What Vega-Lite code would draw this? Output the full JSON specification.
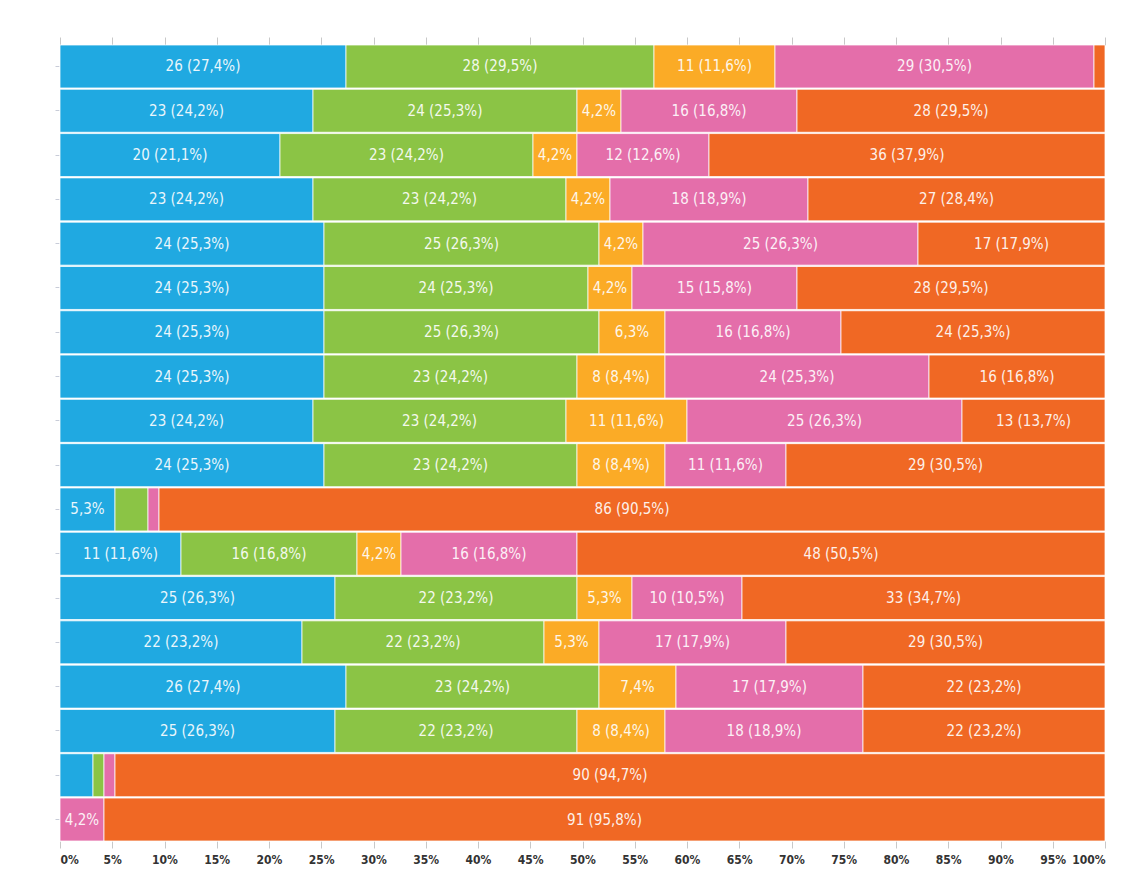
{
  "$schema": "https://vega.github.io/schema/vega-lite/v6.json",
  "autosize": "none",
  "width": 1045,
  "height": 796,
  "padding": {"left": 60, "top": 45, "right": 23, "bottom": 51},
  "background": "#ffffff",
  "config": {"view": {"stroke": null}},
  "data": {"values": [
    {"row":1,"cat":"c1","value":26},{"row":1,"cat":"c2","value":28},{"row":1,"cat":"c3","value":11},{"row":1,"cat":"c4","value":29},{"row":1,"cat":"c5","value":1},
    {"row":2,"cat":"c1","value":23},{"row":2,"cat":"c2","value":24},{"row":2,"cat":"c3","value":4},{"row":2,"cat":"c4","value":16},{"row":2,"cat":"c5","value":28},
    {"row":3,"cat":"c1","value":20},{"row":3,"cat":"c2","value":23},{"row":3,"cat":"c3","value":4},{"row":3,"cat":"c4","value":12},{"row":3,"cat":"c5","value":36},
    {"row":4,"cat":"c1","value":23},{"row":4,"cat":"c2","value":23},{"row":4,"cat":"c3","value":4},{"row":4,"cat":"c4","value":18},{"row":4,"cat":"c5","value":27},
    {"row":5,"cat":"c1","value":24},{"row":5,"cat":"c2","value":25},{"row":5,"cat":"c3","value":4},{"row":5,"cat":"c4","value":25},{"row":5,"cat":"c5","value":17},
    {"row":6,"cat":"c1","value":24},{"row":6,"cat":"c2","value":24},{"row":6,"cat":"c3","value":4},{"row":6,"cat":"c4","value":15},{"row":6,"cat":"c5","value":28},
    {"row":7,"cat":"c1","value":24},{"row":7,"cat":"c2","value":25},{"row":7,"cat":"c3","value":6},{"row":7,"cat":"c4","value":16},{"row":7,"cat":"c5","value":24},
    {"row":8,"cat":"c1","value":24},{"row":8,"cat":"c2","value":23},{"row":8,"cat":"c3","value":8},{"row":8,"cat":"c4","value":24},{"row":8,"cat":"c5","value":16},
    {"row":9,"cat":"c1","value":23},{"row":9,"cat":"c2","value":23},{"row":9,"cat":"c3","value":11},{"row":9,"cat":"c4","value":25},{"row":9,"cat":"c5","value":13},
    {"row":10,"cat":"c1","value":24},{"row":10,"cat":"c2","value":23},{"row":10,"cat":"c3","value":8},{"row":10,"cat":"c4","value":11},{"row":10,"cat":"c5","value":29},
    {"row":11,"cat":"c1","value":5},{"row":11,"cat":"c2","value":3},{"row":11,"cat":"c3","value":0},{"row":11,"cat":"c4","value":1},{"row":11,"cat":"c5","value":86},
    {"row":12,"cat":"c1","value":11},{"row":12,"cat":"c2","value":16},{"row":12,"cat":"c3","value":4},{"row":12,"cat":"c4","value":16},{"row":12,"cat":"c5","value":48},
    {"row":13,"cat":"c1","value":25},{"row":13,"cat":"c2","value":22},{"row":13,"cat":"c3","value":5},{"row":13,"cat":"c4","value":10},{"row":13,"cat":"c5","value":33},
    {"row":14,"cat":"c1","value":22},{"row":14,"cat":"c2","value":22},{"row":14,"cat":"c3","value":5},{"row":14,"cat":"c4","value":17},{"row":14,"cat":"c5","value":29},
    {"row":15,"cat":"c1","value":26},{"row":15,"cat":"c2","value":23},{"row":15,"cat":"c3","value":7},{"row":15,"cat":"c4","value":17},{"row":15,"cat":"c5","value":22},
    {"row":16,"cat":"c1","value":25},{"row":16,"cat":"c2","value":22},{"row":16,"cat":"c3","value":8},{"row":16,"cat":"c4","value":18},{"row":16,"cat":"c5","value":22},
    {"row":17,"cat":"c1","value":3},{"row":17,"cat":"c2","value":1},{"row":17,"cat":"c3","value":0},{"row":17,"cat":"c4","value":1},{"row":17,"cat":"c5","value":90},
    {"row":18,"cat":"c1","value":0},{"row":18,"cat":"c2","value":0},{"row":18,"cat":"c3","value":0},{"row":18,"cat":"c4","value":4},{"row":18,"cat":"c5","value":91}
  ]},
  "transform": [
    {"filter": "datum.value > 0"},
    {"joinaggregate": [{"op": "sum", "field": "value", "as": "total"}], "groupby": ["row"]},
    {"stack": "value", "groupby": ["row"], "sort": [{"field": "cat", "order": "ascending"}], "offset": "normalize", "as": ["v0", "v1"]},
    {"calculate": "(datum.v0 + datum.v1) / 2", "as": "mid"},
    {"calculate": "replace(format(datum.value / datum.total * 100, '.1f'), '.', ',') + '%'", "as": "pct"},
    {"calculate": "datum.value >= 8 ? datum.value + ' (' + datum.pct + ')' : (datum.value >= 4 ? datum.pct : '')", "as": "label"}
  ],
  "encoding": {
    "y": {
      "field": "row", "type": "ordinal", "title": null,
      "scale": {"paddingInner": 0.03, "paddingOuter": 0},
      "axis": {"labels": false, "domain": false, "ticks": true, "tickSize": 4, "tickColor": "#c8ccd8", "tickWidth": 1, "offset": 1}
    }
  },
  "layer": [
    {
      "mark": {"type": "bar", "stroke": "#ffffff", "strokeWidth": 1, "strokeOpacity": 0.75},
      "encoding": {
        "x": {
          "field": "v0", "type": "quantitative", "title": null,
          "scale": {"domain": [0, 1], "nice": false, "zero": true},
          "axis": {
            "orient": "bottom", "values": [0,0.05,0.1,0.15,0.2,0.25,0.3,0.35,0.4,0.45,0.5,0.55,0.6,0.65,0.7,0.75,0.8,0.85,0.9,0.95,1],
            "format": ".0%", "grid": false, "domain": false, "tickSize": 7, "tickColor": "#c8c8c8",
            "labelFont": "DejaVu Sans Condensed", "labelFontWeight": "bold", "labelFontSize": 12, "labelColor": "#333333", "labelPadding": 6
          }
        },
        "x2": {"field": "v1"},
        "color": {
          "field": "cat", "type": "nominal", "legend": null,
          "scale": {"domain": ["c1","c2","c3","c4","c5"], "range": ["#20a9e1","#8bc445","#fbab26","#e46eaa","#f06824"]}
        }
      }
    },
    {
      "mark": {"type": "text", "font": "DejaVu Sans Condensed", "fontSize": 15, "color": "#ffffff", "opacity": 0.9, "align": "center", "baseline": "middle"},
      "encoding": {
        "x": {
          "field": "mid", "type": "quantitative", "title": null,
          "scale": {"domain": [0, 1], "nice": false},
          "axis": {"orient": "top", "labels": false, "domain": false, "grid": false, "tickSize": 8, "tickColor": "#c8c8c8",
            "values": [0,0.05,0.1,0.15,0.2,0.25,0.3,0.35,0.4,0.45,0.5,0.55,0.6,0.65,0.7,0.75,0.8,0.85,0.9,0.95,1]}
        },
        "text": {"field": "label"}
      }
    }
  ],
  "resolve": {"axis": {"x": "independent"}}
}
